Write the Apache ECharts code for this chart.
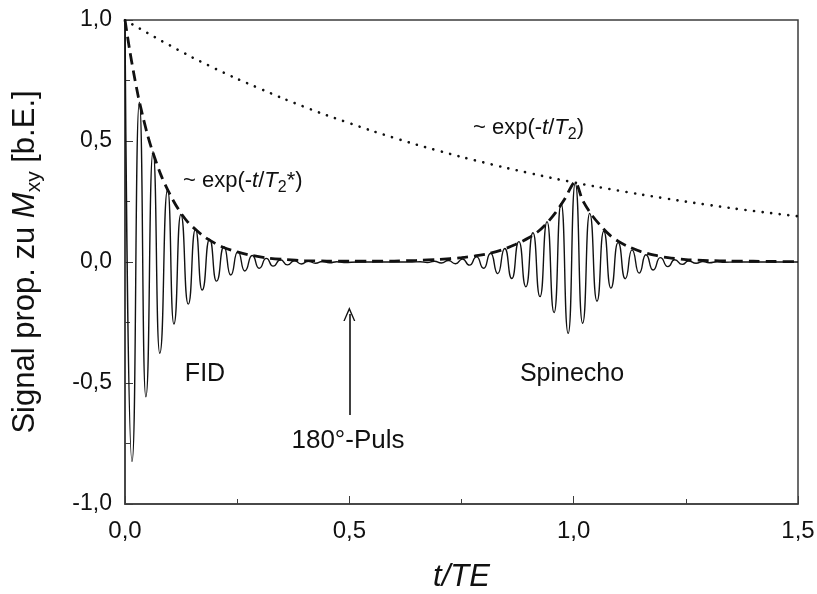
<!DOCTYPE html>
<html>
<head>
<meta charset="utf-8">
<script src="https://cdn.jsdelivr.net/npm/echarts@6/dist/echarts.min.js"></script>
<style>
  body { margin: 0; background: #fff; }
  #chart { width: 817px; height: 594px; }
</style>
</head>
<body>
<div id="chart"></div>
<script>
// Werte (t/TE, Signal)
var t2T = [0, 0.1, 0.2, 0.3, 0.4, 0.5, 0.6, 0.7, 0.8, 0.9, 1.0, 1.1, 1.2, 1.3, 1.4, 1.5];
var t2V = [1.0, 0.895, 0.80, 0.717, 0.641, 0.574, 0.513, 0.459, 0.411, 0.368, 0.329, 0.295, 0.264, 0.236, 0.211, 0.189];

// Einhuellende ~ exp(-t/T2*)
var envT = [0, 0.01, 0.02, 0.03, 0.04, 0.05, 0.06, 0.08, 0.10, 0.12, 0.14, 0.16, 0.18, 0.20, 0.22, 0.25, 0.28, 0.32, 0.36, 0.40, 0.45,
            0.50, 0.55, 0.60, 0.65, 0.70, 0.75, 0.78, 0.81, 0.84, 0.87, 0.90, 0.92, 0.94, 0.96, 0.98, 1.003,
            1.02, 1.04, 1.06, 1.08, 1.10, 1.12, 1.15, 1.18, 1.21, 1.25, 1.30, 1.35, 1.40, 1.45, 1.50];
var envV = [1.0, 0.88, 0.775, 0.68, 0.60, 0.527, 0.465, 0.36, 0.28, 0.215, 0.165, 0.13, 0.10, 0.078, 0.06, 0.042, 0.028, 0.016, 0.010, 0.006, 0.004,
            0.003, 0.003, 0.004, 0.007, 0.011, 0.018, 0.025, 0.035, 0.05, 0.072, 0.10, 0.125, 0.16, 0.205, 0.26, 0.33,
            0.255, 0.195, 0.15, 0.112, 0.085, 0.065, 0.043, 0.028, 0.018, 0.010, 0.006, 0.004, 0.003, 0.002, 0.001];

// Signal: Maxima und Minima (FID und Spinecho)
var sigT = [0, 0.0157, 0.0320, 0.0465, 0.0625, 0.0775, 0.0950, 0.1090, 0.1245, 0.1410, 0.1570, 0.1720, 0.1885, 0.2040,
            0.2205, 0.2355, 0.2515, 0.2670, 0.2835, 0.2990, 0.3150, 0.3300, 0.3465, 0.3620, 0.3775, 0.3930, 0.4090,
            0.4245, 0.4400, 0.4560, 0.4720, 0.4880, 0.52, 0.64,
            0.6581, 0.6738, 0.6895, 0.7052, 0.7209, 0.7366, 0.7523, 0.7680, 0.7837, 0.7994, 0.8151, 0.8308, 0.8465,
            0.8622, 0.8779, 0.8936, 0.9093, 0.9250, 0.9407, 0.9564, 0.9721, 0.9878, 1.0035,
            1.0200, 1.0357, 1.0520, 1.0670, 1.0830, 1.0990, 1.1150, 1.1300, 1.1460, 1.1610, 1.1770, 1.1930, 1.2100,
            1.2250, 1.2420, 1.2560, 1.2730, 1.2880, 1.3020, 1.3200, 1.3360, 1.36, 1.50];
var sigV = [1.0, -0.825, 0.66, -0.557, 0.456, -0.377, 0.300, -0.256, 0.196, -0.174, 0.135, -0.116, 0.094, -0.079,
            0.063, -0.054, 0.043, -0.037, 0.027, -0.026, 0.015, -0.017, 0.009, -0.012, 0.005, -0.008, 0.003,
            -0.005, 0.002, -0.003, 0.001, -0.002, 0, 0,
            0.001, -0.002, 0.003, -0.004, 0.006, -0.007, 0.012, -0.013, 0.021, -0.026, 0.036, -0.048, 0.056,
            -0.068, 0.084, -0.102, 0.121, -0.143, 0.167, -0.209, 0.242, -0.295, 0.325,
            -0.253, 0.201, -0.162, 0.127, -0.108, 0.080, -0.069, 0.050, -0.046, 0.030, -0.033, 0.018, -0.019,
            0.009, -0.010, 0.004, -0.005, 0.002, -0.003, 0.001, -0.001, 0, 0];

// Achsen
var xTicks = [0, 0.5, 1.0, 1.5];
var yTicks = [-1.0, -0.5, 0, 0.5, 1.0];

function pairs(xs, ys) {
    return xs.map(function (x, i) { return [x, ys[i]]; });
}
function comma(v) {
    return v.toFixed(1).replace('.', ',');
}

var font = 'Liberation Sans, Arial, sans-serif';
var axisCol = '#3c3c3c';
var txt = '#111';

var chart = echarts.init(document.getElementById('chart'), null, { renderer: 'canvas' });

var axisCommon = {
    type: 'value',
    axisLine: { show: true, onZero: false, lineStyle: { color: axisCol, width: 1.5 } },
    axisTick: { show: true, inside: true, length: 8, lineStyle: { color: axisCol, width: 1 } },
    minorTick: { show: true, splitNumber: 2, length: 5, lineStyle: { color: axisCol, width: 1 } },
    splitLine: { show: false },
    axisLabel: { color: txt, fontFamily: font, fontSize: 23, formatter: comma }
};

function formula(text, size) {
    return {
        text: text, align: 'left', verticalAlign: 'middle',
        rich: {
            n: { fontSize: size, fontFamily: font, fill: txt, lineHeight: size + 8 },
            i: { fontSize: size, fontFamily: font, fill: txt, fontStyle: 'italic', lineHeight: size + 8 },
            s: { fontSize: Math.round(size * 0.72), fontFamily: font, fill: txt, lineHeight: size + 8, verticalAlign: 'bottom' }
        }
    };
}
function note(text, x, y, size) {
    return { type: 'text', x: x, y: y, silent: true,
             style: { text: text, fontSize: size, fontFamily: font, fill: txt, align: 'center', verticalAlign: 'middle' } };
}

chart.setOption({
    animation: false,
    backgroundColor: '#fff',
    grid: { left: 125, right: 19, top: 20, bottom: 90, show: true, borderColor: axisCol, borderWidth: 1.5,
            containLabel: false, outerBoundsMode: 'none' },
    xAxis: Object.assign({}, axisCommon, {
        min: xTicks[0], max: xTicks[xTicks.length - 1], interval: 0.5,
        axisLabel: Object.assign({}, axisCommon.axisLabel, { margin: 15, fontSize: 24 }),
        name: 't/TE', nameLocation: 'middle', nameGap: 58,
        nameTextStyle: { color: txt, fontFamily: font, fontSize: 31, fontStyle: 'italic' }
    }),
    yAxis: Object.assign({}, axisCommon, {
        min: yTicks[0], max: yTicks[yTicks.length - 1], interval: 0.5,
        axisLabel: Object.assign({}, axisCommon.axisLabel, { margin: 13 }),
        name: '{n|Signal prop. zu }{i|M}{s|xy}{n| [b.E.]}',
        nameLocation: 'middle', nameGap: 80, nameRotate: 90,
        nameTextStyle: {
            color: txt, fontFamily: font,
            rich: {
                n: { fontSize: 31, fontFamily: font, color: txt, lineHeight: 40 },
                i: { fontSize: 31, fontFamily: font, color: txt, fontStyle: 'italic', lineHeight: 40 },
                s: { fontSize: 21, fontFamily: font, color: txt, lineHeight: 40, verticalAlign: 'bottom' }
            }
        }
    }),
    graphic: [
        { type: 'text', x: 183, y: 181, silent: true, style: formula('{n|~ exp(-}{i|t}{n|/}{i|T}{s|2}{n|*)}', 22) },
        { type: 'text', x: 473, y: 128, silent: true, style: formula('{n|~ exp(-}{i|t}{n|/}{i|T}{s|2}{n|)}', 22) },
        note('FID', 205, 374, 25),
        note('Spinecho', 572, 374, 25),
        note('180°-Puls', 348, 441, 26)
    ],
    series: [
        {
            name: 'T2', type: 'line', data: pairs(t2T, t2V), smooth: true, symbol: 'none', silent: true,
            lineStyle: { color: txt, width: 2.6, type: [0.1, 8.5], cap: 'round' }
        },
        {
            name: 'T2*', type: 'line', data: pairs(envT, envV), smooth: 0.3,
            symbol: 'none', silent: true,
            lineStyle: { color: txt, width: 2.8, type: [11, 6] }
        },
        {
            name: 'Signal', type: 'line', data: pairs(sigT, sigV), smooth: 0.6, smoothMonotone: 'x',
            symbol: 'none', silent: true,
            lineStyle: { color: txt, width: 1.4 },
            markLine: {
                silent: true, animation: false,
                label: { show: false },
                lineStyle: { color: txt, width: 1.6, type: 'solid' },
                symbolSize: [12, 14],
                data: [[
                    { coord: [0.5, -0.632], symbol: 'none' },
                    { coord: [0.5, -0.215], symbol: 'path://M0,14 L6,0 L12,14 L10.6,14 L6,3.5 L1.4,14 Z' }
                ]]
            }
        }
    ]
});
</script>
</body>
</html>
